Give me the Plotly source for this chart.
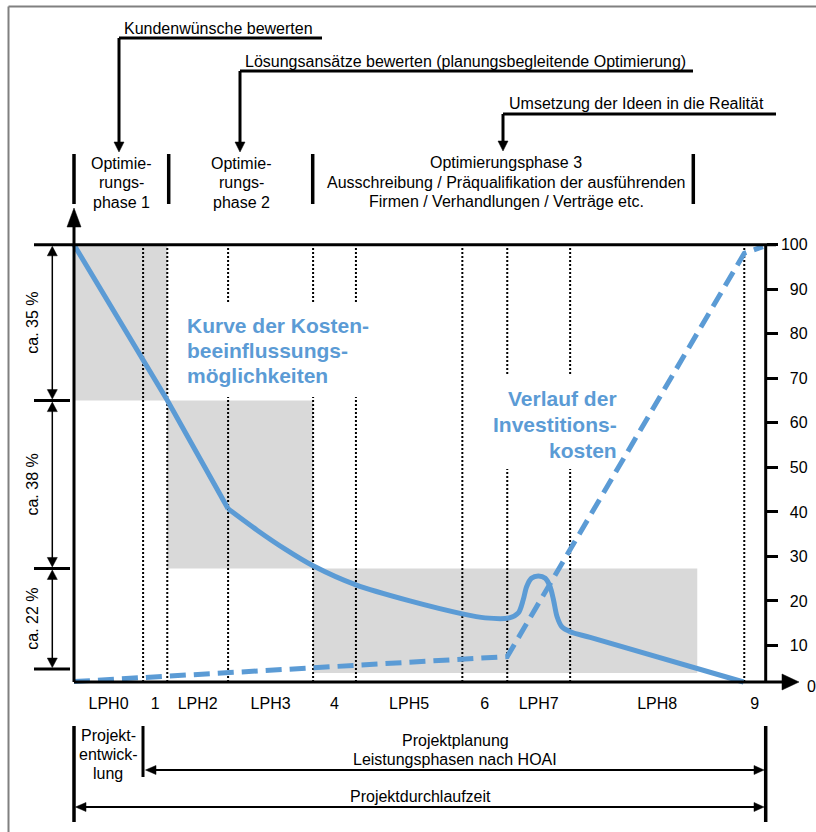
import plotly.graph_objects as go

# ---------------- data ----------------
phase_bounds = [0.0, 10.0, 13.5, 22.3, 34.6, 40.8, 56.2, 62.7, 71.8, 97.0, 100.0]
phase_labels = ["LPH0", "1", "LPH2", "LPH3", "4", "LPH5", "6", "LPH7", "LPH8", "9"]
y_tick_values = [10, 20, 30, 40, 50, 60, 70, 80, 90, 100]

# Kurve der Kostenbeeinflussungsmöglichkeiten (steep straight part + curved part)
influence_x_steep = [0.0, 13.5, 22.3]
influence_y_steep = [100.0, 65.1, 40.7]
influence_x = [22.3, 26.5, 30.5, 34.6, 40.8, 48.6, 56.2, 59.5, 63.0, 64.3, 65.0, 65.5,
               66.2, 67.2, 68.2, 68.9, 69.4, 69.9, 70.6, 71.8, 74.7, 96.9]
influence_y = [40.7, 35.9, 31.7, 27.9, 23.6, 20.0, 17.1, 16.2, 16.2, 17.3, 20.2, 23.2,
               25.1, 25.6, 25.1, 23.2, 20.2, 16.5, 14.2, 13.1, 11.8, 1.8]

# Verlauf der Investitionskosten
invest_x = [0.0, 10.0, 22.3, 34.6, 47.2, 56.2, 62.7, 97.0, 98.1, 99.7]
invest_y = [1.9, 2.8, 3.8, 5.0, 6.0, 6.8, 7.5, 98.1, 98.8, 99.6]

# share brackets on the left and grey bands
share_levels = [100.0, 65.0, 27.3, 4.7]
share_labels = ["ca. 35 %", "ca. 38 %", "ca. 22 %"]
band_x0 = [0.0, 13.5, 34.6]
band_x1 = [13.5, 34.6, 90.2]
band_y0 = [65.0, 27.3, 3.8]
band_y1 = [100.0, 65.0, 27.3]

# ---------------- styling / geometry ----------------
BLUE = "#5B9BD5"
GREY = "#D9D9D9"
FONT = "Arial, Liberation Sans, sans-serif"
W, H = 816, 832
X0, SX = 74.0, 6.91      # pixel of x=0, pixels per x unit
Y0, SY = 690.0, 4.452    # pixel of y=0, pixels per y unit


def dx(px):
    return (px - X0) / SX


def dy(py):
    return (Y0 - py) / SY


def py_of(v):
    return Y0 - v * SY


BASE = dy(682)

shapes = []
annotations = []


def seg(x0, y0, x1, y1, w=3, color="black", layer="above"):
    shapes.append(dict(type="line", xref="x", yref="y", x0=dx(x0), y0=dy(y0), x1=dx(x1), y1=dy(y1),
                       line=dict(color=color, width=w), layer=layer))


def tri(pts, color="black"):
    path = "M " + " L ".join(f"{dx(a):.4f},{dy(b):.4f}" for a, b in pts) + " Z"
    shapes.append(dict(type="path", xref="x", yref="y", path=path, fillcolor=color,
                       line=dict(color=color, width=0.5), layer="above"))


def text(t, px, py, size=16, color="black", xanchor="center", angle=0):
    annotations.append(dict(text=t, x=dx(px), y=dy(py), xref="x", yref="y", showarrow=False,
                            xanchor=xanchor, yanchor="middle", textangle=angle,
                            font=dict(size=size, color=color, family=FONT)))


# grey bands
for a, b, c, d in zip(band_x0, band_x1, band_y0, band_y1):
    shapes.append(dict(type="rect", xref="x", yref="y", x0=a, x1=b, y0=c, y1=d,
                       fillcolor=GREY, line=dict(width=0), layer="below"))

# dotted phase boundaries
for xb in phase_bounds[1:-1]:
    shapes.append(dict(type="line", xref="x", yref="y", x0=xb, x1=xb, y0=BASE, y1=100,
                       line=dict(color="black", width=2, dash="2px,2px"), layer="below"))

# white boxes behind the blue labels
for (l, r, t, b) in [(180, 375, 303, 397), (488, 622, 376, 469)]:
    shapes.append(dict(type="rect", xref="x", yref="y", x0=dx(l), x1=dx(r), y0=dy(b), y1=dy(t),
                       fillcolor="white", line=dict(width=0), layer="below"))

# outer frame (top & left)
seg(8.5, 6.5, 816, 6.5, w=2, color="#808080")
seg(8.5, 6.5, 8.5, 832, w=2, color="#808080")

# top call-outs
seg(119, 38, 322, 38)
seg(119, 38, 119, 143)
tri([(114, 142), (124, 142), (119, 152)])
seg(240, 71, 693, 71)
seg(240, 71, 240, 143)
tri([(235, 142), (245, 142), (240, 152)])
seg(503, 114, 776, 114)
seg(503, 114, 503, 142)
tri([(498, 141), (508, 141), (503, 151)])
for xb in [74, 168.7, 312.7, 693.3]:
    seg(xb, 154, xb, 204, w=3.5)

# chart frame
top_py = py_of(share_levels[0])
seg(34, top_py, 776, top_py)
seg(74, 682, 74, 226)
tri([(67, 227), (81, 227), (74, 208)])
seg(74, 682, 783, 682)
tri([(782, 674), (782, 690), (799, 682)])
seg(765.7, top_py, 765.7, 682)

# share brackets
for lvl in share_levels[1:]:
    p = py_of(lvl)
    seg(34, p, 70, p)
for i, lab in enumerate(share_labels):
    pa, pb = py_of(share_levels[i]), py_of(share_levels[i + 1])
    seg(52.3, pa + 9, 52.3, pb - 9, w=1.5)
    tri([(47.3, pa + 11), (57.3, pa + 11), (52.3, pa + 1.5)])
    tri([(47.3, pb - 11), (57.3, pb - 11), (52.3, pb - 1.5)])
    text(lab, 33, (pa + pb) / 2, angle=-90)

# bottom brackets
seg(74, 726, 74, 822, w=3.5)
seg(143, 726, 143, 777, w=3)
seg(765.7, 726, 765.7, 822, w=3.5)
seg(152, 770, 758, 770, w=2)
tri([(145.5, 770), (156, 765.5), (156, 774.5)])
tri([(764, 770), (754, 765.5), (754, 774.5)])
seg(82, 807, 758, 807, w=2)
tri([(75.5, 807), (86, 802.5), (86, 811.5)])
tri([(764, 807), (754, 802.5), (754, 811.5)])

# texts
text("Kundenwünsche bewerten", 218, 28)
text("Lösungsansätze bewerten (planungsbegleitende Optimierung)", 465, 61)
text("Umsetzung der Ideen in die Realität", 636.5, 103)


def multi(lines, px, py0, step, **kw):
    for k, ln in enumerate(lines):
        text(ln, px, py0 + k * step, **kw)


multi(["Optimie-", "rungs-", "phase 1"], 121, 163, 19.5)
multi(["Optimie-", "rungs-", "phase 2"], 241, 163, 19.5)
multi(["Optimierungsphase 3", "Ausschreibung / Präqualifikation der ausführenden",
       "Firmen / Verhandlungen / Verträge etc."], 506, 162.5, 19.7)
multi(["<b>Kurve der Kosten-</b>", "<b>beeinflussungs-</b>", "<b>möglichkeiten</b>"],
      185, 325, 25, size=21, color=BLUE, xanchor="left")
multi(["<b>Verlauf der</b>", "<b>Investitions-</b>", "<b>kosten</b>"],
      619, 398, 26, size=21, color=BLUE, xanchor="right")
text("0", 811, 686)
multi(["Projekt-", "entwick-", "lung"], 108.3, 735, 19)
multi(["Projektplanung", "Leistungsphasen nach HOAI"], 455, 740, 19)
text("Projektdurchlaufzeit", 420, 796)

# ---------------- figure ----------------
fig = go.Figure()
fig.add_trace(go.Scatter(x=influence_x_steep, y=influence_y_steep, mode="lines",
                         line=dict(color=BLUE, width=5), hoverinfo="skip", showlegend=False))
fig.add_trace(go.Scatter(x=influence_x, y=influence_y, mode="lines",
                         line=dict(color=BLUE, width=5, shape="spline", smoothing=0.8),
                         hoverinfo="skip", showlegend=False))
fig.add_trace(go.Scatter(x=invest_x, y=invest_y, mode="lines",
                         line=dict(color=BLUE, width=5, dash="16px,8px"),
                         hoverinfo="skip", showlegend=False))

mids = [(a + b) / 2 for a, b in zip(phase_bounds[:-1], phase_bounds[1:])]

fig.update_layout(
    width=W, height=H, margin=dict(l=0, r=0, t=0, b=0),
    paper_bgcolor="white", plot_bgcolor="white", showlegend=False,
    font=dict(family=FONT, size=16, color="black"),
    xaxis=dict(range=[dx(0), dx(W)], domain=[0, 1], anchor="free", position=1 - 682 / H,
               showgrid=False, zeroline=False, showline=False, fixedrange=True,
               tickmode="array", tickvals=mids, ticktext=phase_labels,
               ticks="outside", ticklen=7, tickcolor="rgba(0,0,0,0)",
               tickfont=dict(size=16, color="black", family=FONT)),
    yaxis=dict(range=[dy(H), dy(0)], domain=[0, 1], anchor="free", position=765.7 / W,
               side="right", showgrid=False, zeroline=False, showline=False, fixedrange=True,
               tickmode="array", tickvals=y_tick_values,
               ticktext=[("\u2007" + str(v)) if v < 100 else str(v) for v in y_tick_values],
               ticks="outside", ticklen=11, tickwidth=3, tickcolor="black",
               tickfont=dict(size=16, color="black", family=FONT)),
    shapes=shapes, annotations=annotations,
)

fig.write_html("out.html", config={"displayModeBar": False},
               post_script="document.body.style.margin='0';document.body.style.overflow='hidden';")
